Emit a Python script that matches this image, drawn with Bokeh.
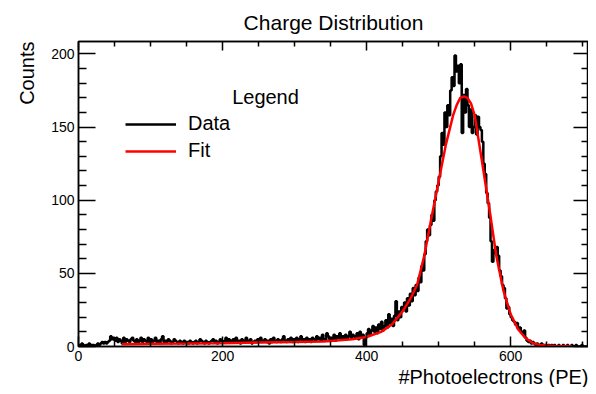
import numpy as np
from bokeh.plotting import figure
from bokeh.models import Range1d, LinearAxis, FixedTicker, Label, Legend, LegendItem, Title
from bokeh.embed import file_html
from bokeh.resources import INLINE

# ---- data ----
BIN_WIDTH = 2  # PE per bin, bins from 0 to 708
counts = [
    1, 1, 2, 1, 0, 1, 1, 2, 1, 1, 1, 0, 1, 2, 1, 2, 3, 2, 3, 2, 3, 4, 7, 5, 6,
    4, 6, 3, 5, 4, 2, 6, 3, 5, 4, 3, 5, 6, 4, 3, 5, 2, 4, 6, 3, 5, 4, 3, 6, 2,
    5, 3, 4, 6, 3, 4, 2, 5, 7, 3, 4, 3, 5, 4, 2, 3, 5, 4, 3, 2, 4, 3, 2, 4, 3,
    3, 2, 4, 3, 2, 3, 4, 2, 3, 5, 4, 3, 2, 4, 3, 2, 3, 4, 5, 3, 4, 2, 3, 5, 4,
    3, 4, 6, 3, 5, 4, 3, 5, 4, 6, 3, 4, 2, 5, 4, 3, 6, 4, 3, 5, 2, 3, 4, 3, 5,
    4, 6, 3, 4, 5, 3, 4, 2, 5, 3, 6, 4, 3, 5, 4, 3, 5, 7, 4, 3, 5, 4, 6, 3, 5,
    4, 6, 3, 5, 7, 4, 5, 3, 6, 4, 5, 3, 6, 5, 4, 7, 5, 6, 4, 8, 5, 4, 9, 7, 5,
    6, 5, 8, 4, 7, 6, 9, 5, 7, 6, 8, 5, 7, 10, 6, 8, 7, 6, 9, 5, 10, 7, 8, 1, 6,
    9, 12, 8, 11, 14, 10, 13, 9, 15, 12, 17, 11, 14, 18, 13, 22, 16, 19, 14, 21, 31, 18, 24, 20, 27,
    26, 30, 24, 33, 28, 36, 31, 40, 35, 42, 38, 47, 44, 55, 52, 63, 72, 80, 76, 83, 90, 86, 100, 106, 110,
    116, 130, 146, 138, 160, 150, 165, 158, 175, 184, 178, 199, 188, 192, 180, 193, 146, 172, 160, 176, 165, 150, 162, 146, 150,
    158, 145, 157, 150, 148, 140, 125, 118, 105, 98, 88, 72, 58, 66, 64, 68, 62, 52, 48, 42, 40, 33, 26, 27, 22,
    20, 18, 17, 15, 16, 12, 13, 10, 9, 11, 6, 4, 3, 4, 2, 3, 2, 1, 2, 1, 1, 2, 0, 1, 1,
    0, 1, 0, 1, 0, 1, 0, 0, 1, 0, 0, 1, 0, 0, 1, 0, 0, 1, 0, 0, 1, 0, 0, 0, 1,
    0, 0, 0, 0,
]
fit_pe = [60, 100, 150, 200, 250, 300, 340, 380, 400, 420, 435, 450, 460, 470, 480, 490,
          500, 510, 520, 525, 530, 535, 540, 545, 550, 560, 572, 580, 590, 600, 610, 620,
          630, 640, 660, 685]
fit_counts = [1.5, 1.8, 2.0, 2.3, 2.7, 3.0, 3.4, 5.0, 6.5, 10, 15, 24, 32, 42, 62, 88,
              113, 138, 158, 165, 170, 171, 170, 166, 158, 127, 89, 62, 38, 22, 12, 6,
              2.5, 1, 0.3, 0.1]
x_major = [0, 200, 400, 600]
x_minor = [50, 100, 150, 250, 300, 350, 450, 500, 550, 650, 700]
y_major = [0, 50, 100, 150, 200]
y_minor = [10, 20, 30, 40, 60, 70, 80, 90, 110, 120, 130, 140, 160, 170, 180, 190]

FONT = "Liberation Sans"

n = len(counts)
edges = np.arange(n + 1) * BIN_WIDTH
step_y = counts + [counts[-1]]

p = figure(frame_width=510, frame_height=305,
           x_range=Range1d(0, edges[-1]), y_range=Range1d(0, 208.5),
           output_backend="svg", toolbar_location=None,
           min_border_left=78, min_border_right=0, min_border_top=0, min_border_bottom=0)
p.xgrid.visible = False
p.ygrid.visible = False
p.outline_line_color = "black"
p.outline_line_width = 1.5
p.background_fill_color = "white"
p.border_fill_color = "white"

p.title.text = "Charge Distribution"
p.title.align = "center"
p.title.text_font = FONT
p.title.text_font_size = "21px"
p.title.text_font_style = "normal"
p.title.text_color = "black"
p.title.standoff = 16

r_data = p.step(edges, step_y, mode="after", line_color="black", line_width=2.5)
r_fit = p.line(fit_pe, fit_counts, line_color="red", line_width=2.5)

xt = FixedTicker(ticks=x_major, minor_ticks=x_minor)
yt = FixedTicker(ticks=y_major, minor_ticks=y_minor)


def style(ax, ticker, major_in, minor_in, labels=True):
    ax.ticker = ticker
    ax.axis_line_color = "black"
    ax.axis_line_width = 1.5
    ax.major_tick_in = major_in
    ax.major_tick_out = 0
    ax.minor_tick_in = minor_in
    ax.minor_tick_out = 0
    ax.major_tick_line_width = 1.5
    ax.minor_tick_line_width = 1.5
    ax.major_tick_line_color = "black"
    ax.minor_tick_line_color = "black"
    if labels:
        ax.major_label_text_font = FONT
        ax.major_label_text_font_size = "14px"
        ax.major_label_text_color = "black"
        ax.major_label_standoff = 4
    else:
        ax.major_label_overrides = {t: "" for t in ticker.ticks}
        ax.major_label_text_font_size = "0px"
        ax.major_label_standoff = 0


style(p.xaxis[0], xt, 10, 5)
style(p.yaxis[0], yt, 17, 8)
ax_r = LinearAxis()
style(ax_r, yt, 15, 7, labels=False)
p.add_layout(ax_r, "right")
ax_t = LinearAxis()
style(ax_t, xt, 9, 5, labels=False)
p.add_layout(ax_t, "above")

# axis titles, ROOT-style aligned to the axis end
p.add_layout(Title(text="#Photoelectrons (PE)", align="right", text_font=FONT,
                   text_font_size="20px", text_font_style="normal", text_color="black",
                   standoff=0), "below")
p.add_layout(Title(text="Counts", align="right", vertical_align="top", text_font=FONT,
                   text_font_size="20px", text_font_style="normal", text_color="black",
                   standoff=18), "left")

legend = Legend(items=[LegendItem(label="Data", renderers=[r_data]),
                       LegendItem(label="Fit", renderers=[r_fit])],
                location=(47, 184), border_line_color=None, background_fill_alpha=0,
                padding=0, margin=0, spacing=4, glyph_width=51, glyph_height=20,
                label_height=20, label_standoff=12, label_text_font=FONT,
                label_text_font_size="20px", label_text_color="black")
p.add_layout(legend)

p.add_layout(Label(x=187, y=250, x_units="screen", y_units="screen", text="Legend",
                   text_align="center", text_baseline="middle", text_font=FONT,
                   text_font_size="20px", text_color="black"))

open("out.html", "w").write(file_html(p, INLINE))
